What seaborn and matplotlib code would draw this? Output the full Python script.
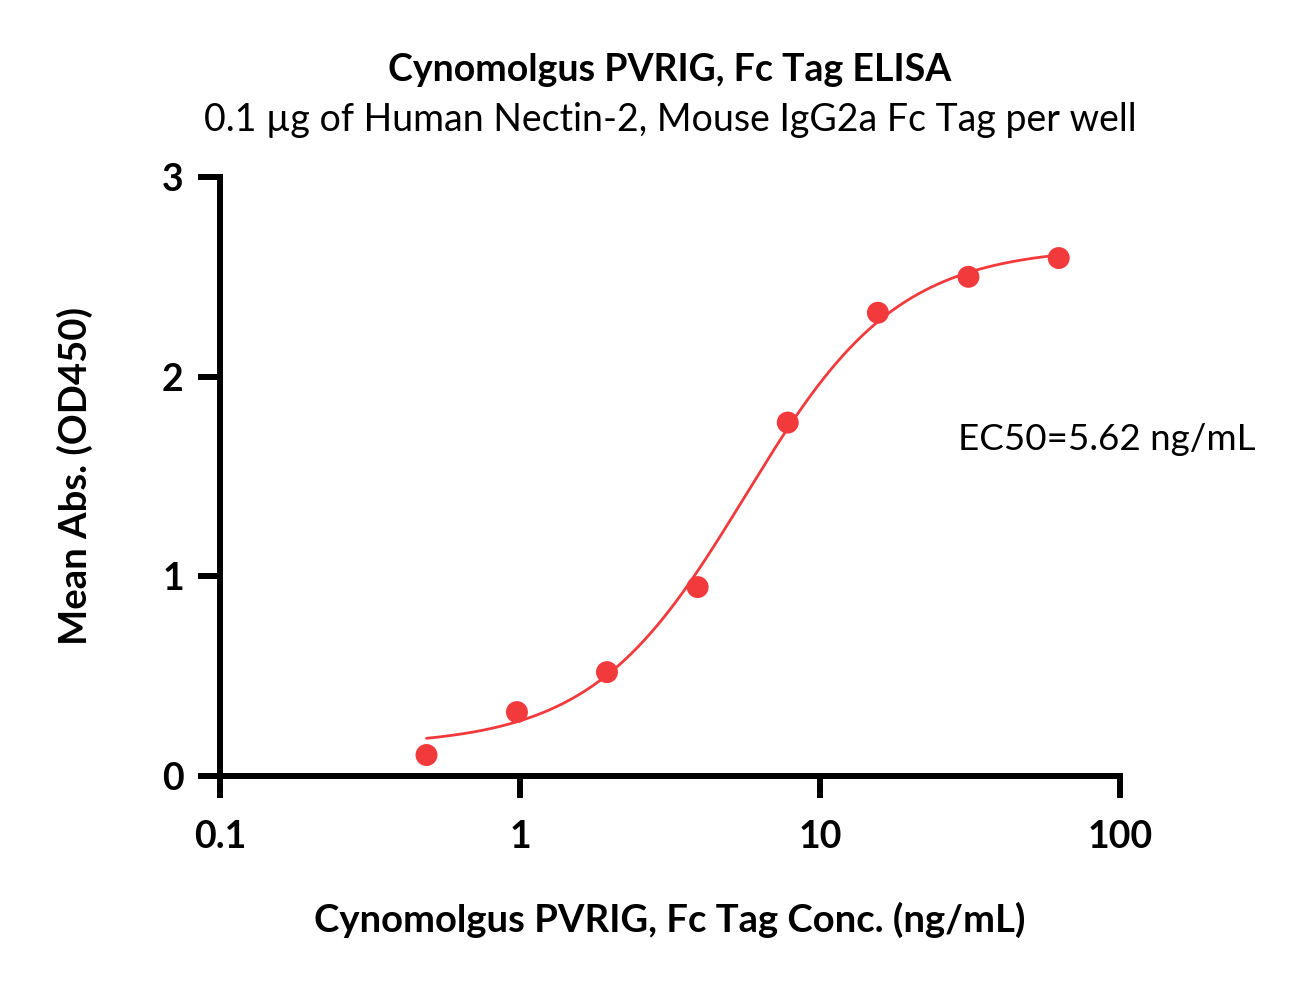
import numpy as np
import pandas as pd
import matplotlib
matplotlib.use("Agg")
import matplotlib.pyplot as plt
import seaborn as sns

conc = [0.488, 0.977, 1.95, 3.91, 7.81, 15.6, 31.25, 62.5]
absorb = [0.105, 0.32, 0.52, 0.946, 1.77, 2.32, 2.50, 2.594]
# 4PL fit parameters
bottom, top, ec50, hill = 0.15, 2.65, 5.62, 1.7

x_ticks = [0.1, 1, 10, 100]
x_tick_labels = ["0.1", "1", "10", "100"]
y_ticks = [0, 1, 2, 3]

title = "Cynomolgus PVRIG, Fc Tag ELISA"
subtitle = "0.1 µg of Human Nectin-2, Mouse IgG2a Fc Tag per well"
xlabel = "Cynomolgus PVRIG, Fc Tag Conc. (ng/mL)"
ylabel = "Mean Abs. (OD450)"
ec50_text = "EC50=5.62 ng/mL"

red = "#F23A3C"

sns.set_theme(style="white")
plt.rcParams["font.family"] = ["Lato", "DejaVu Sans"]
plt.rcParams["text.color"] = "black"
plt.rcParams["axes.labelcolor"] = "black"
plt.rcParams["xtick.color"] = "black"
plt.rcParams["ytick.color"] = "black"

fig = plt.figure(figsize=(12.97, 9.81), dpi=100)
ax = fig.add_axes([0.1696, 0.2090, 0.8635 - 0.1696, 0.8196 - 0.2090])

xs = np.logspace(np.log10(conc[0]), np.log10(conc[-1]), 300)
ys = bottom + (top - bottom) / (1 + (ec50 / xs) ** hill)
fit = pd.DataFrame({"x": xs, "y": ys})
pts = pd.DataFrame({"x": conc, "y": absorb})

sns.lineplot(data=fit, x="x", y="y", ax=ax, color=red, linewidth=2.0)
sns.scatterplot(data=pts, x="x", y="y", ax=ax, color=red, s=250, edgecolor="none", zorder=3)

ax.set_xscale("log")
ax.set_xlim(0.1, 100)
ax.set_ylim(0, 3)
ax.set_xticks(x_ticks)
ax.set_xticklabels(x_tick_labels)
ax.set_yticks(y_ticks)
ax.xaxis.set_minor_locator(matplotlib.ticker.NullLocator())

for s in ["top", "right"]:
    ax.spines[s].set_visible(False)
for s in ["left", "bottom"]:
    ax.spines[s].set_linewidth(4.3)
    ax.spines[s].set_color("black")
    ax.spines[s].set_capstyle("projecting")

ax.tick_params(axis="both", which="major", direction="out", length=16, width=4.3,
               color="black", labelsize=27, bottom=True, left=True)
ax.tick_params(axis="x", pad=16)
ax.tick_params(axis="y", pad=10)
for lab in ax.get_xticklabels() + ax.get_yticklabels():
    lab.set_fontweight("bold")

ax.set_xlabel(xlabel, fontsize=27.5, fontweight="bold", labelpad=34)
ax.set_ylabel(ylabel, fontsize=27.5, fontweight="bold", labelpad=50)

ax.text(958 / 1297, 1 - 440 / 981, ec50_text, transform=fig.transFigure,
        fontsize=26.5, va="center", ha="left")

fig.text(670 / 1297, 1 - 70 / 981, title, fontsize=27, fontweight="bold",
         ha="center", va="center")
fig.text(670 / 1297, 1 - 120 / 981, subtitle, fontsize=27,
         ha="center", va="center")

fig.savefig("out.png", dpi=100, facecolor="white")
